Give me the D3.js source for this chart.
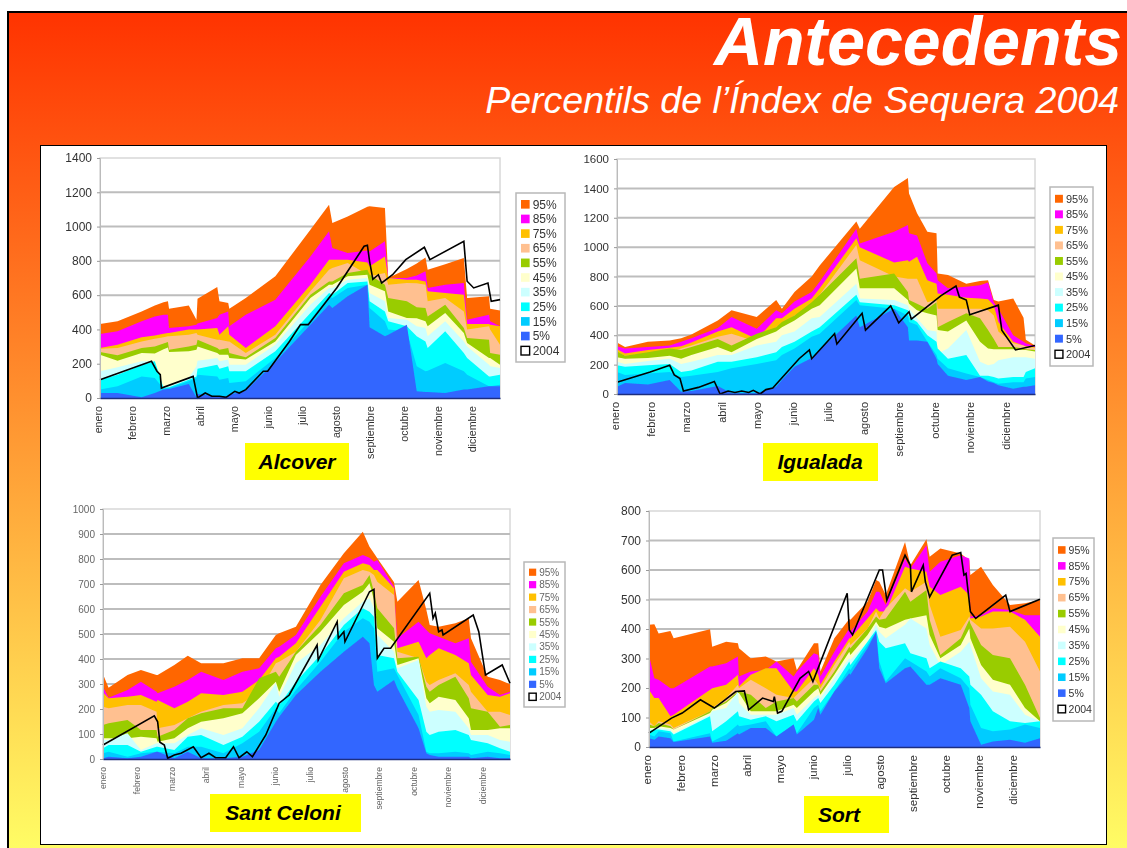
<!DOCTYPE html>
<meta charset="utf-8">
<style>
html, body { margin: 0; padding: 0; background: #fff; overflow: hidden; }
svg { display: block; }
text { font-family: "Liberation Sans", Arial, sans-serif; }
</style>
<svg width="1127" height="848"></svg>
<script src="https://d3js.org/d3.v7.min.js"></script>
<script>

var months = ["enero","febrero","marzo","abril","mayo","junio","julio","agosto","septiembre","octubre","noviembre","diciembre"];
var monthDays = [0,31,62,93,124,155,186,217,248,279,310,341];
var percentiles = ["95%","85%","75%","65%","55%","45%","35%","25%","15%","5%"];
var bandColors = ["#ff6600","#ff00ff","#ffc000","#ffc090","#99cc00","#ffffcc","#ccffff","#00ffff","#00ccff","#3366ff"];

// Alcover
var alcoverDays = [0,16,38,50,58,62,63,81,88,89,107,109,117,118,133,160,192,209,212,226,244,246,260,263,280,289,297,299,315,332,335,355,356,365];
var alcover95 = [432,447,505,540,558,564,521,540,457,579,647,564,554,521,583,710,982,1128,1021,1059,1115,1118,1108,700,752,785,820,748,780,816,583,593,521,510];
var alcover85 = [373,389,447,475,485,486,408,418,428,434,467,486,505,418,486,573,826,972,875,846,860,855,914,700,700,715,739,642,661,671,457,486,447,418];
var alcover75 = [292,311,354,365,375,379,379,399,399,399,408,369,418,369,292,418,661,807,807,807,790,768,826,700,690,690,680,622,612,603,432,432,428,418];
var alcover65 = [288,292,330,345,355,360,360,369,379,369,340,340,330,330,262,369,622,748,758,787,720,710,729,661,671,670,661,564,583,505,399,418,399,311];
var alcover55 = [268,249,292,300,318,327,282,301,311,340,292,282,292,262,237,350,603,680,680,729,748,719,661,583,564,530,525,476,544,408,350,340,262,253];
var alcover45 = [253,218,262,260,285,295,268,272,282,301,262,253,253,233,224,330,583,661,661,710,719,661,622,505,467,465,447,418,496,379,321,233,233,194];
var alcover35 = [156,179,214,214,62,68,68,117,185,218,233,214,224,194,194,311,544,642,642,690,700,612,564,467,457,418,408,360,447,330,301,194,185,175];
var alcover25 = [107,136,191,214,58,62,62,107,126,171,194,171,185,156,156,272,496,612,603,671,680,564,505,447,418,360,330,292,389,262,233,126,126,136];
var alcover15 = [49,68,126,117,54,58,58,97,117,136,126,107,117,87,97,233,457,593,583,642,661,525,447,399,389,185,156,159,204,156,136,68,68,78];
var alcover5 = [29,29,4,29,49,52,52,82,4,23,10,10,10,19,43,210,428,544,525,593,661,412,360,369,428,39,35,35,29,49,49,68,68,68];
var alcoverLineDays = [0,47,52,55,56,85,89,96,102,109,115,123,127,133,149,153,173,183,190,216,241,244,246,249,254,257,267,279,296,301,332,335,341,354,357,365];
var alcover2004 = [107,214,156,136,58,126,0,29,10,10,4,39,29,49,156,156,331,428,428,642,885,891,797,692,719,671,719,807,879,807,914,681,642,671,564,574];

// Igualada
var igualadaDays = [0,7,27,46,56,65,88,100,122,139,144,155,170,177,209,212,242,254,255,262,271,279,280,289,305,317,324,329,333,346,355,357,365];
var igualada95 = [350,320,355,365,380,405,500,570,525,640,580,695,800,875,1175,1125,1410,1470,1365,1230,1105,1095,820,810,750,770,775,640,630,650,520,370,330];
var igualada85 = [325,310,320,330,355,380,450,525,445,570,550,630,695,765,1125,1025,1105,1150,1095,1080,890,820,775,720,730,740,760,625,580,400,355,345,325];
var igualada75 = [305,275,300,315,325,350,425,455,375,515,515,580,650,720,1060,1000,895,910,900,935,775,750,685,675,655,650,645,605,490,355,330,325,320];
var igualada65 = [285,260,275,285,310,330,390,410,355,455,480,535,595,675,1015,910,800,785,785,785,625,640,580,580,580,580,570,535,425,345,330,320,315];
var igualada55 = [290,260,285,310,300,320,375,330,410,455,490,535,625,675,925,785,820,695,640,615,580,625,455,490,550,515,435,375,320,320,310,305,300];
var igualada45 = [250,240,245,260,240,265,320,285,375,425,455,500,580,605,855,720,720,640,615,570,550,535,435,425,500,355,310,305,305,305,300,300,290];
var igualada35 = [220,205,225,240,205,220,265,265,330,355,400,425,515,525,750,650,640,605,580,515,435,425,275,310,435,220,195,205,230,250,250,250,240];
var igualada25 = [195,185,195,205,150,160,220,220,250,285,320,355,425,455,675,625,605,570,525,490,400,355,310,240,265,125,125,115,105,115,115,150,175];
var igualada15 = [150,130,140,150,115,125,150,175,205,230,265,310,390,410,640,605,580,535,490,470,355,265,240,175,140,115,95,80,70,80,80,105,115];
var igualada5 = [50,75,65,95,15,20,55,5,5,50,95,185,245,300,535,455,580,455,365,365,355,240,205,125,95,115,85,75,60,35,50,50,60];
var igualadaLineDays = [0,29,46,50,55,58,71,85,90,97,103,109,115,119,125,130,136,159,168,170,190,192,214,217,239,246,255,257,283,296,299,305,308,333,336,348,365];
var igualada2004 = [80,150,195,130,105,20,45,85,0,20,10,20,10,25,0,30,40,240,300,240,410,340,550,435,600,485,560,510,670,735,660,640,540,605,435,300,330];

// Sant Celoni
var santCeloniDays = [0,5,22,34,48,49,64,76,88,108,125,140,155,158,173,195,216,233,239,243,246,261,264,283,290,293,301,316,328,330,345,356,365];
var santCeloni95 = [339,285,336,356,336,336,376,413,383,383,403,403,496,503,529,696,823,909,849,823,803,707,629,716,596,536,529,543,563,483,329,316,299];
var santCeloni85 = [289,245,276,309,269,263,289,316,349,316,349,363,443,449,496,649,783,816,805,789,796,689,483,549,516,503,489,463,483,389,289,256,269];
var santCeloni75 = [267,243,249,256,229,236,203,229,263,256,269,316,403,409,463,609,749,783,776,756,756,683,443,469,403,416,443,416,383,336,256,249,263];
var santCeloni65 = [209,203,216,216,189,123,136,163,189,216,223,269,383,389,429,556,723,756,749,736,709,656,429,403,309,296,316,343,296,269,189,189,176];
var santCeloni55 = [136,143,156,116,116,89,116,163,183,203,203,323,349,329,429,536,663,696,736,669,603,523,403,409,289,269,296,329,243,203,189,129,136];
var santCeloni45 = [83,83,83,89,83,69,83,123,149,163,183,243,309,269,416,509,616,669,703,636,523,469,376,403,243,223,249,236,163,116,116,123,123];
var santCeloni35 = [76,76,103,36,63,63,63,96,123,96,123,203,303,249,383,456,563,629,643,603,496,429,363,396,209,189,196,189,123,96,96,76,69];
var santCeloni25 = [43,56,56,29,49,49,36,89,96,56,89,149,229,216,309,416,536,603,589,569,416,403,349,236,109,96,109,116,96,76,63,43,29];
var santCeloni15 = [23,29,9,23,29,29,23,49,49,23,63,109,203,183,276,389,509,563,549,523,349,363,336,176,29,23,23,29,23,16,29,23,16];
var santCeloni5 = [3,9,3,9,29,29,3,29,3,3,9,36,149,169,256,349,429,489,463,296,269,316,283,123,23,16,9,9,9,3,9,3,3];
var santCeloniLineDays = [0,46,49,51,55,58,64,70,81,88,95,101,110,117,122,129,134,146,158,167,192,193,210,211,216,217,239,243,246,252,258,293,296,298,301,304,305,332,337,343,358,365];
var santCeloni2004 = [56,173,149,67,56,3,16,23,49,5,23,5,5,49,5,29,9,96,223,256,456,396,549,483,509,469,669,679,403,443,443,663,563,583,509,516,496,576,509,336,376,303];

// Sort
var sortDays = [0,5,9,20,23,57,59,72,83,84,95,109,119,135,138,154,158,160,173,187,188,204,212,215,221,239,244,259,262,272,291,299,300,310,321,337,351,365];
var sort95 = [414,416,385,393,369,399,340,357,352,335,301,307,290,301,261,352,352,256,369,434,431,492,566,560,515,695,616,704,645,673,656,633,583,611,549,481,487,498];
var sort85 = [312,233,228,199,199,273,273,284,307,239,256,261,290,239,256,318,312,239,323,402,391,459,526,526,481,639,605,684,594,628,650,639,442,447,470,464,447,447];
var sort75 = [194,166,166,104,109,194,199,211,245,205,245,267,267,188,188,267,245,211,290,369,369,436,470,459,459,611,605,594,543,515,543,515,436,442,459,459,431,374];
var sort65 = [87,70,87,76,64,121,132,166,211,199,228,199,177,166,177,233,211,199,278,357,346,402,459,436,470,538,526,560,481,374,397,442,431,402,402,408,357,256];
var sort55 = [76,70,81,70,59,121,132,154,188,188,177,132,154,166,154,211,211,188,256,340,335,402,442,431,436,526,492,532,431,312,369,431,419,346,312,301,211,98];
var sort45 = [64,64,70,64,59,115,126,149,183,183,121,121,121,143,132,188,199,177,245,323,312,380,425,408,402,431,436,447,380,301,346,402,369,278,228,211,132,87];
var sort35 = [59,59,64,59,47,109,121,132,188,149,109,109,109,132,109,166,177,166,233,301,295,357,414,391,369,414,436,402,346,278,323,357,346,233,188,177,109,87];
var sort25 = [53,59,59,53,42,104,53,87,121,104,92,104,87,109,87,154,166,149,211,290,278,357,397,357,335,352,318,301,267,290,267,239,211,177,121,87,81,87];
var sort15 = [42,36,53,47,19,47,19,42,76,70,76,87,36,76,47,132,143,121,188,267,261,346,391,290,222,301,290,256,239,267,233,199,143,64,53,59,76,64];
var sort5 = [30,25,36,30,17,36,14,21,47,42,64,64,36,76,42,92,132,109,188,250,245,335,391,267,216,267,273,211,211,233,211,132,87,8,19,25,14,30];
var sortLineDays = [0,21,31,48,61,81,89,93,106,116,117,120,124,141,149,153,185,187,190,215,218,222,239,244,245,256,258,262,283,291,294,296,300,305,333,337,365];
var sort2004 = [47,98,115,160,132,188,190,126,166,154,171,115,121,233,256,222,521,397,380,600,600,498,650,616,526,616,560,509,650,659,583,588,459,436,515,459,501];

var svg = d3.select("svg"),
    width = +svg.attr("width"),
    height = +svg.attr("height");

var defs = svg.append("defs");

var bg = defs.append("linearGradient")
    .attr("id", "slide")
    .attr("x1", 0).attr("y1", 0).attr("x2", 0).attr("y2", 1);
bg.append("stop").attr("offset", "0%").attr("stop-color", "#ff3300");
bg.append("stop").attr("offset", "100%").attr("stop-color", "#ffff66");

defs.append("filter")
    .attr("id", "soft")
    .attr("filterUnits", "userSpaceOnUse")
    .attr("x", 0).attr("y", 0).attr("width", width).attr("height", height)
  .append("feGaussianBlur")
    .attr("stdDeviation", 0.75);

// slide background
svg.append("rect")
    .attr("x", 8).attr("y", 12)
    .attr("width", width).attr("height", height)
    .attr("fill", "url(#slide)")
    .attr("stroke", "#000")
    .attr("stroke-width", 2);

svg.append("text")
    .attr("x", 1122).attr("y", 65)
    .attr("text-anchor", "end")
    .attr("font-size", 68)
    .attr("font-weight", "bold")
    .attr("font-style", "italic")
    .attr("fill", "#fff")
    .text("Antecedents");

svg.append("text")
    .attr("x", 1119).attr("y", 113)
    .attr("text-anchor", "end")
    .attr("font-size", 37.5)
    .attr("font-style", "italic")
    .attr("fill", "#fff")
    .text("Percentils de l\u2019\u00cdndex de Sequera 2004");

svg.append("rect")
    .attr("x", 40.5).attr("y", 145.5)
    .attr("width", 1066).attr("height", 699)
    .attr("fill", "#fff")
    .attr("stroke", "#000");

var charts = [
  {name: "Alcover", days: alcoverDays, bands: [alcover95,alcover85,alcover75,alcover65,alcover55,alcover45,alcover35,alcover25,alcover15,alcover5],
   lineDays: alcoverLineDays, line: alcover2004, yMax: 1400, yStep: 200,
   left: 100, right: 500, top: 158, bottom: 398, tickFont: 12, monthFont: 10.7, legendFont: 12, tickColor: "#333",
   legend: [516, 193, 49, 169], box: [245, 443, 104, 37], labelX: 297},
  {name: "Igualada", days: igualadaDays, bands: [igualada95,igualada85,igualada75,igualada65,igualada55,igualada45,igualada35,igualada25,igualada15,igualada5],
   lineDays: igualadaLineDays, line: igualada2004, yMax: 1600, yStep: 200,
   left: 617, right: 1035, top: 159, bottom: 394, tickFont: 11.5, monthFont: 11, legendFont: 11, tickColor: "#333",
   legend: [1050, 187, 43, 179], box: [763, 443, 115, 38], labelX: 820},
  {name: "Sant Celoni", days: santCeloniDays, bands: [santCeloni95,santCeloni85,santCeloni75,santCeloni65,santCeloni55,santCeloni45,santCeloni35,santCeloni25,santCeloni15,santCeloni5],
   lineDays: santCeloniLineDays, line: santCeloni2004, yMax: 1000, yStep: 100,
   left: 103, right: 510, top: 509, bottom: 759, tickFont: 10, monthFont: 8.6, legendFont: 10, tickColor: "#666",
   legend: [524, 562, 41, 145], box: [210, 794, 151, 38], labelX: 283},
  {name: "Sort", days: sortDays, bands: [sort95,sort85,sort75,sort65,sort55,sort45,sort35,sort25,sort15,sort5],
   lineDays: sortLineDays, line: sort2004, yMax: 800, yStep: 100,
   left: 649, right: 1040, top: 511, bottom: 747, tickFont: 12, monthFont: 11.5, legendFont: 10.5, tickColor: "#333",
   legend: [1053, 538, 41, 183], box: [804, 796, 85, 37], labelX: 839}
];

charts.forEach(drawChart);

function drawChart(c) {
  var x = d3.scaleLinear().domain([0, 365]).range([c.left, c.right]);
  var y = d3.scaleLinear().domain([0, c.yMax]).range([c.bottom, c.top]);

  var g = svg.append("g").attr("filter", "url(#soft)");

  // plot frame and grid, the areas sit over them
  g.append("rect")
      .attr("x", c.left).attr("y", c.top)
      .attr("width", c.right - c.left).attr("height", c.bottom - c.top)
      .attr("fill", "#fff")
      .attr("stroke", "#d8d8d8")
      .attr("stroke-width", 1.5);

  g.append("g")
    .selectAll("line")
    .data(d3.range(c.yStep, c.yMax, c.yStep))
    .enter().append("line")
      .attr("x1", c.left).attr("x2", c.right)
      .attr("y1", function(d) { return y(d); })
      .attr("y2", function(d) { return y(d); })
      .attr("stroke", "#bdbdbd")
      .attr("stroke-width", 2);

  var area = d3.area()
      .x(function(d) { return x(d[0]); })
      .y0(y(0))
      .y1(function(d) { return y(d[1]); });

  g.append("g")
    .selectAll("path")
    .data(c.bands)
    .enter().append("path")
      .attr("d", function(d) { return area(d3.zip(c.days, d)); })
      .attr("fill", function(d, i) { return bandColors[i]; });

  var line = d3.line()
      .x(function(d) { return x(d[0]); })
      .y(function(d) { return y(d[1]); });

  g.append("path")
      .attr("d", line(d3.zip(c.lineDays, c.line)))
      .attr("fill", "none")
      .attr("stroke", "#000")
      .attr("stroke-width", 1.6);

  var yAxis = d3.axisLeft(y)
      .tickValues(d3.range(0, c.yMax + 1, c.yStep))
      .tickSize(3)
      .tickPadding(5)
      .tickFormat(d3.format("d"));

  var yG = g.append("g")
      .attr("transform", "translate(" + c.left + ",0)")
      .call(yAxis);
  yG.select(".domain").attr("stroke", "#bbb");
  yG.selectAll(".tick line").attr("stroke", "#999");
  yG.selectAll("text")
      .attr("font-size", c.tickFont)
      .attr("font-family", "\"Liberation Sans\", Arial, sans-serif")
      .attr("fill", c.tickColor);

  var xAxis = d3.axisBottom(x)
      .tickValues(monthDays)
      .tickSize(0)
      .tickFormat(function(d, i) { return months[i]; });

  var xG = g.append("g")
      .attr("transform", "translate(0," + c.bottom + ")")
      .call(xAxis);
  xG.select(".domain").attr("stroke", "#1f2f80").attr("stroke-width", 1.5);
  xG.selectAll("text")
      .attr("font-size", c.monthFont)
      .attr("font-family", "\"Liberation Sans\", Arial, sans-serif")
      .attr("fill", c.tickColor)
      .attr("text-anchor", "end")
      .attr("transform", "rotate(-90)")
      .attr("dx", -8)
      .attr("dy", "-0.1em")
      .attr("x", 0)
      .attr("y", 3);

  drawLegend(g, c);

  // name tag under the plot
  svg.append("rect")
      .attr("x", c.box[0]).attr("y", c.box[1])
      .attr("width", c.box[2]).attr("height", c.box[3])
      .attr("fill", "#ffff00");

  svg.append("text")
      .attr("x", c.labelX).attr("y", c.box[1] + 26)
      .attr("text-anchor", "middle")
      .attr("font-size", 21)
      .attr("font-weight", "bold")
      .attr("font-style", "italic")
      .attr("fill", "#000")
      .text(c.name);
}

function drawLegend(g, c) {
  var box = c.legend,
      rowH = (box[3] - 8) / 11,
      size = c.legendFont * 0.72;

  var lg = g.append("g")
      .attr("transform", "translate(" + box[0] + "," + box[1] + ")");

  lg.append("rect")
      .attr("width", box[2]).attr("height", box[3])
      .attr("fill", "#fff")
      .attr("stroke", "#b8b8b8")
      .attr("stroke-width", 1.5);

  var row = lg.selectAll("g")
      .data(percentiles.concat(["2004"]))
      .enter().append("g")
      .attr("transform", function(d, i) {
        return "translate(5," + (4 + rowH * (i + 0.5)) + ")";
      });

  row.append("rect")
      .attr("x", 0).attr("y", -size / 2)
      .attr("width", size).attr("height", size)
      .attr("fill", function(d, i) { return i < 10 ? bandColors[i] : "#fff"; })
      .attr("stroke", function(d, i) { return i < 10 ? "none" : "#000"; })
      .attr("stroke-width", 1.4);

  row.append("text")
      .attr("x", size + 3)
      .attr("dy", "0.35em")
      .attr("font-size", c.legendFont)
      .attr("fill", c.tickColor)
      .text(function(d) { return d; });
}

</script>
